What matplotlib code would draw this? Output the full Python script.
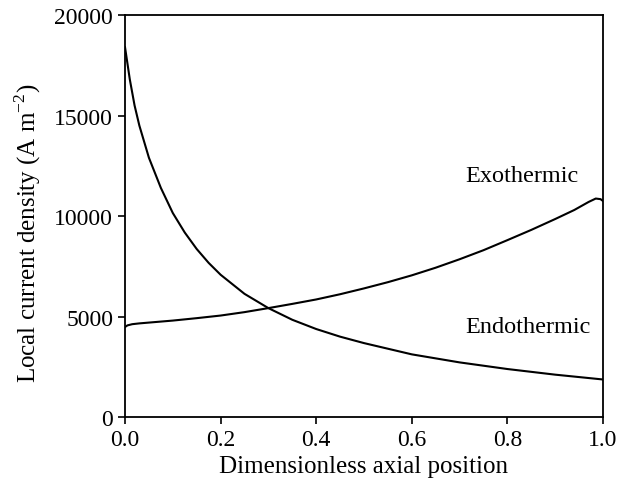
import numpy as np
import matplotlib.pyplot as plt

plt.rcParams['font.family'] = ['Liberation Serif', 'DejaVu Serif']
plt.rcParams['mathtext.fontset'] = 'custom'
plt.rcParams['mathtext.rm'] = 'Liberation Serif'

# exothermic case
x_exo = [0.0, 0.005, 0.015, 0.03, 0.06, 0.1, 0.15, 0.2, 0.25, 0.3, 0.35, 0.4, 0.45, 0.5,
         0.55, 0.6, 0.65, 0.7, 0.75, 0.8, 0.85, 0.9, 0.94, 0.97, 0.985, 0.995, 1.0]
j_exo = [4480, 4560, 4620, 4660, 4720, 4800, 4920, 5050, 5220, 5420, 5630, 5850, 6110, 6400,
         6710, 7050, 7430, 7850, 8300, 8800, 9310, 9850, 10300, 10700, 10870, 10840, 10750]

# endothermic case
x_endo = [0.0, 0.01, 0.02, 0.03, 0.05, 0.075, 0.1, 0.125, 0.15, 0.175, 0.2, 0.25, 0.3,
          0.35, 0.4, 0.45, 0.5, 0.6, 0.7, 0.8, 0.9, 1.0]
j_endo = [18400, 16800, 15500, 14500, 12900, 11400, 10150, 9180, 8360, 7670, 7080, 6130, 5420,
          4840, 4380, 4000, 3680, 3120, 2720, 2390, 2110, 1870]

fig = plt.figure(figsize=(6.33, 4.85), dpi=100)
ax = fig.add_axes([0.1975, 0.138, 0.755, 0.829])
ax.plot(x_exo, j_exo, color='black', lw=1.5)
ax.plot(x_endo, j_endo, color='black', lw=1.5)

ax.text(0.711, 12000, 'Exothermic', fontsize=17.5, va='center', ha='left')
ax.text(0.711, 4500, 'Endothermic', fontsize=17.5, va='center', ha='left')

ax.set_xlim(0, 1)
ax.set_ylim(0, 20000)
ax.set_xticks(np.arange(0, 1.01, 0.2))
ax.set_xticklabels(['0.0', '0.2', '0.4', '0.6', '0.8', '1.0'])
ax.set_yticks(np.arange(0, 20001, 5000))
ax.tick_params(direction='out', length=5, width=1.2, labelsize=17)
for s in ax.spines.values():
    s.set_linewidth(1.3)
ax.set_xlabel('Dimensionless axial position', fontsize=18, labelpad=4)
ax.set_ylabel(r'Local current density (A m$^{\mathregular{-2}}$)', fontsize=18)
ax.yaxis.set_label_coords(-0.172, 0.46)

fig.savefig('out.png', dpi=100)
